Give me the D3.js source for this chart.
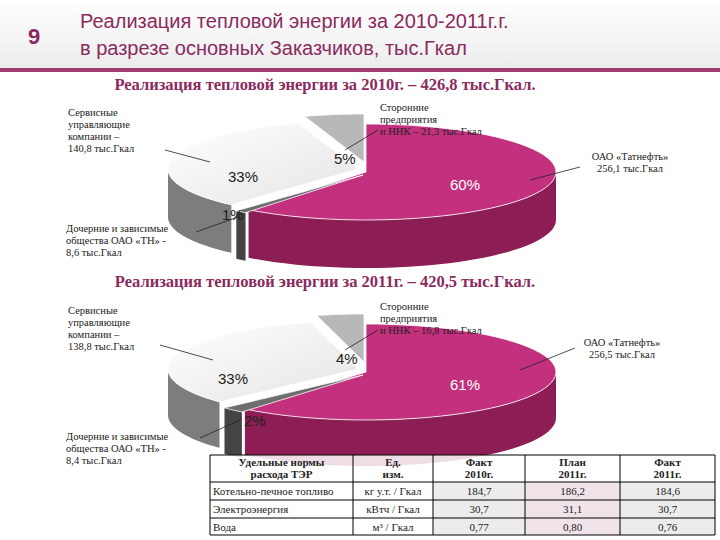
<!DOCTYPE html><html><head><meta charset="utf-8"><script src="https://cdn.jsdelivr.net/npm/d3@7"></script>
<style>body{margin:0;background:#fff}</style></head><body><svg id="c" width="720" height="540"></svg>
<script>
const categories=["Сторонние предприятия","ОАО «Татнефть»","Дочерние и зависимые","Сервисные управляющие"];
const pct2010=[5,60,1,33];
const pct2011=[4,61,2,33];
const tableHead=[["Удельные нормы","расхода ТЭР"],["Ед.","изм."],["Факт","2010г."],["План","2011г."],["Факт","2011г."]];
const tableRows=["Котельно-печное топливо","Электроэнергия","Вода"];
const tableUnits=["кг у.т. / Гкал","кВтч / Гкал","м³ / Гкал"];
const fact2010=["184,7","30,7","0,77"];
const plan2011=["186,2","31,1","0,80"];
const fact2011=["184,6","30,7","0,76"];

const svg=d3.select("#c");
const defs=svg.append("defs");
const g1=defs.append("linearGradient").attr("id","bg").attr("x1",0).attr("y1",0).attr("x2",0).attr("y2",1);
g1.append("stop").attr("offset",0).attr("stop-color","#fff");g1.append("stop").attr("offset",1).attr("stop-color","#ececec");
const gw=defs.append("linearGradient").attr("id","wt").attr("x1",0).attr("y1",0).attr("x2",1).attr("y2",1);
gw.append("stop").attr("offset",0).attr("stop-color","#fff");gw.append("stop").attr("offset",1).attr("stop-color","#e4e4e4");
svg.append("rect").attr("width",720).attr("height",70).attr("fill","url(#bg)");
svg.append("text").attr("x",28).attr("y",44).attr("font-family","Liberation Sans").attr("font-weight","bold").attr("font-size",22).attr("fill","#8b2a5e").text("9");
const tt=svg.append("text").attr("font-family","Liberation Sans Narrow, Liberation Sans").attr("font-size",20).attr("fill","#8b2a5e");
tt.append("tspan").attr("x",80).attr("y",28).text("Реализация тепловой энергии за 2010-2011г.г.");
tt.append("tspan").attr("x",80).attr("y",55).text("в разрезе основных Заказчиков, тыс.Гкал");
svg.append("rect").attr("x",0).attr("y",68).attr("width",720).attr("height",4).attr("fill","#a03c74");

const serif="Liberation Serif";
function title(y,t){svg.append("text").attr("x",325).attr("y",y).attr("text-anchor","middle").attr("font-family",serif).attr("font-weight","bold").attr("font-size",16.5).attr("fill","#8b2a5e").text(t);}
title(90,"Реализация тепловой энергии за 2010г. – 426,8 тыс.Гкал.");
title(287,"Реализация тепловой энергии за 2011г. – 420,5 тыс.Гкал.");

const tops=["#b8b8b8","#c2307e","#6e6e6e","url(#wt)"];
const sides=["#8a8a8a","#8c1d55","#444","#7d7d7d"];
const offs=[[-2,-10],[0,0],[-3,3],[-8,-3]];
function pie3d(cx,cy,rx,ry,depth,vals){
  const sum=d3.sum(vals);
  const ang=d3.scaleLinear().domain([0,sum]).range([0,2*Math.PI]);
  const start=-ang(vals[0]);
  let acc=0;const sl=vals.map((v,i)=>{const a0=start+ang(acc);acc+=v;return {i,a0,a1:start+ang(acc)};});
  const P=(a,dx,dy,d)=>[cx+dx+rx*Math.sin(a),cy+dy-ry*Math.cos(a)+d];
  const line=d3.line();
  const G=svg.append("g");
  sl.forEach(s=>{
    const [dx,dy]=offs[s.i];
    for(let k=-1;k<=1;k++){
      const lo=Math.max(s.a0,Math.PI/2+k*2*Math.PI),hi=Math.min(s.a1,1.5*Math.PI+k*2*Math.PI);
      if(hi<=lo)continue;
      const pts=d3.range(0,41).map(j=>P(lo+(hi-lo)*j/40,dx,dy,0));
      const bot=pts.slice().reverse().map(p=>[p[0],p[1]+depth]);
      G.append("path").attr("d",line(pts.concat(bot))+"Z").attr("fill",sides[s.i]);
    }
  });
  sl.forEach(s=>{
    const [dx,dy]=offs[s.i];
    const pts=[[cx+dx,cy+dy]].concat(d3.range(0,61).map(j=>P(s.a0+(s.a1-s.a0)*j/60,dx,dy,0)));
    G.append("path").attr("d",line(pts)+"Z").attr("fill",tops[s.i]).attr("stroke","#fff").attr("stroke-width",0.8);
  });
}
function pctLabel(x,y,t,c){svg.append("text").attr("x",x).attr("y",y).attr("font-family","Liberation Sans").attr("font-size",15).attr("fill",c||"#222").text(t);}
function note(x,y,lines,anchor){const t=svg.append("text").attr("font-family",serif).attr("font-size",10.5).attr("fill","#222").attr("text-anchor",anchor||"start");lines.forEach((l,i)=>t.append("tspan").attr("x",x).attr("y",y+i*12).text(l));}
function lead(x1,y1,x2,y2){svg.append("line").attr("x1",x1).attr("y1",y1).attr("x2",x2).attr("y2",y2).attr("stroke","#222").attr("stroke-width",0.8);}

pie3d(366,172,190,48,48,pct2010);
pctLabel(228,182,pct2010[3]+"%");pctLabel(334,164,pct2010[0]+"%");pctLabel(450,190,pct2010[1]+"%","#fff");pctLabel(222,220,pct2010[2]+"%");
note(68,116,["Сервисные","управляющие","компании –","140,8 тыс.Гкал"]);lead(165,150,210,162);
note(380,111,["Сторонние","предприятия","и ННК – 21,3 тыс.Гкал"]);lead(378,130,345,150);
note(630,160,["ОАО «Татнефть»","256,1 тыс.Гкал"],"middle");lead(580,167,530,180);
note(66,232,["Дочерние и зависимые","общества ОАО «ТН» -","8,6 тыс.Гкал"]);lead(196,232,238,217);

pie3d(366,372,190,48,46,pct2011);
pctLabel(218,384,pct2011[3]+"%");pctLabel(336,364,pct2011[0]+"%");pctLabel(450,390,pct2011[1]+"%","#fff");pctLabel(244,426,pct2011[2]+"%");
note(68,314,["Сервисные","управляющие","компании –","138,8 тыс.Гкал"]);lead(160,345,213,360);
note(380,310,["Сторонние","предприятия","и ННК – 16,8 тыс.Гкал"]);lead(378,330,345,350);
note(622,346,["ОАО «Татнефть»","256,5 тыс.Гкал"],"middle");lead(575,348,520,370);
note(66,440,["Дочерние и зависимые","общества ОАО «ТН» -","8,4 тыс.Гкал"]);lead(200,438,240,420);

const cols=[210,353,433,525,620,715];
const rowsY=[455,482,500,518,535];
const T=svg.append("g").attr("font-family",serif).attr("font-size",11).attr("fill","#222");
T.append("rect").attr("x",cols[0]).attr("y",rowsY[0]).attr("width",cols[5]-cols[0]).attr("height",rowsY[4]-rowsY[0]).attr("fill","rgba(255,255,255,0.85)");
for(let r=1;r<4;r++)for(let c=2;c<5;c++)T.append("rect").attr("x",cols[c]).attr("y",rowsY[r]).attr("width",cols[c+1]-cols[c]).attr("height",rowsY[r+1]-rowsY[r]).attr("fill",c==3?"#f0e3ea":"#ececec");
tableHead.forEach((h,c)=>h.forEach((l,k)=>T.append("text").attr("x",(cols[c]+cols[c+1])/2).attr("y",466+k*12).attr("text-anchor","middle").attr("font-weight","bold").text(l)));
tableRows.forEach((n,r)=>{
  const y=rowsY[r+1]+13;
  T.append("text").attr("x",cols[0]+3).attr("y",y).text(n);
  [tableUnits[r],fact2010[r],plan2011[r],fact2011[r]].forEach((v,c)=>T.append("text").attr("x",(cols[c+1]+cols[c+2])/2).attr("y",y).attr("text-anchor","middle").text(v));
});
cols.forEach(x=>T.append("line").attr("x1",x).attr("x2",x).attr("y1",rowsY[0]).attr("y2",rowsY[4]).attr("stroke","#000"));
rowsY.forEach(y=>T.append("line").attr("x1",cols[0]).attr("x2",cols[5]).attr("y1",y).attr("y2",y).attr("stroke","#000"));
</script></body></html>
